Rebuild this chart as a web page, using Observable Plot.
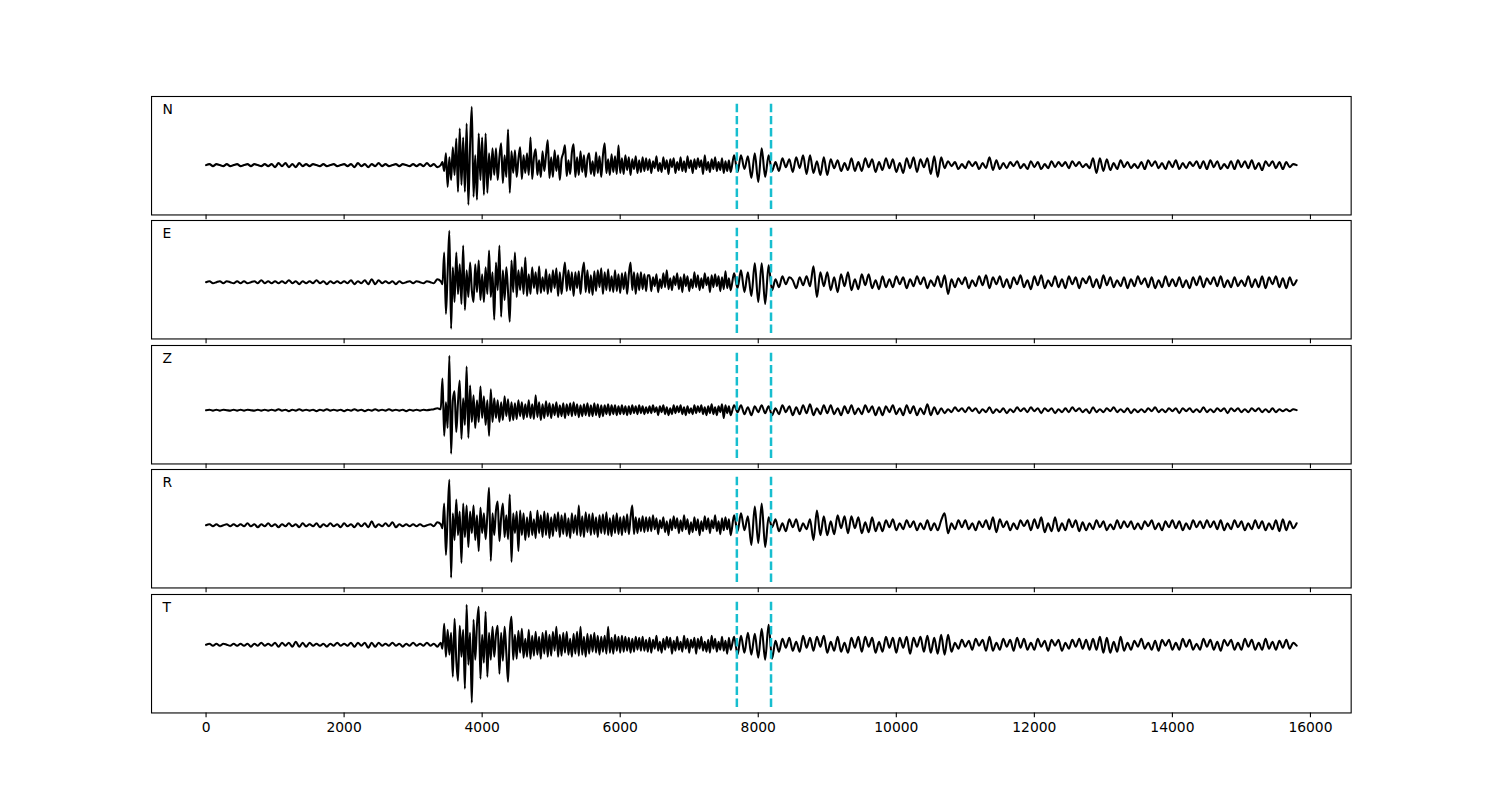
<!DOCTYPE html>
<html><head><meta charset="utf-8">
<script src="https://cdn.jsdelivr.net/npm/d3@7"></script>
<script src="https://cdn.jsdelivr.net/npm/@observablehq/plot@0.6"></script>
<style>
body{margin:0;background:#fff}
#fig{position:relative;width:1500px;height:800px;font-family:"DejaVu Sans"}
#fig svg{position:absolute;left:0}
</style>
</head><body><div id="fig"></div>
<script>
// Each trace = pre-event noise (dt 50 from t=0), main burst (dt 25 from t=3400), coda (dt 50 from t=7650)
const PRE_DT = 50, BURST_T0 = 3400, BURST_DT = 25, CODA_T0 = 7650, CODA_DT = 50;
const channels = ["N", "E", "Z", "R", "T"];
const picks = [7690, 8185];
const xTicks = [0, 2000, 4000, 6000, 8000, 10000, 12000, 14000, 16000];

const preN = [
0,1,-1,1,0,-1,1,-1,0,1,
-1,0,1,-1,1,0,-1,1,-1,1,
-2,2,-1,2,-2,1,-2,2,-1,1,
-1,1,0,-1,1,-1,0,1,-1,0,
1,-1,1,-2,2,-1,1,-2,1,-1,
2,-1,1,-1,0,1,-1,1,0,-1,
1,-1,1,-1,2,-1,1,-2];
const burstN = [
0,3,-6,12,-22,8,-15,18,-10,27,
-27,37,-20,28,-27,42,-40,20,59,-32,
10,-35,32,-15,28,-30,32,-28,12,-15,
17,-10,17,-15,8,22,-18,10,-12,36,
-28,14,-8,15,-12,6,18,-14,10,-8,
12,-10,28,-14,8,16,-10,5,-12,14,
-6,10,25,-13,8,-12,15,-6,10,-15,
6,12,20,-11,5,-9,13,21,-12,8,
-10,14,-7,10,-12,6,12,-9,4,-11,
13,-8,9,-12,10,22,-8,6,-10,11,
-7,9,-9,20,-8,7,-9,10,-5,8,
-10,6,-4,9,-8,5,-7,8,-6,7,
-5,
6,-8,4,-3,9,-6,2,-7,8,-4,
5,-9,6,-2,7,-8,3,-5,8,-6,
4,-7,9,-3,5,-8,6,-4,7,-2,
5,-9,10,-5,3,-7,6,-4,8,-6,
3,-5,7,-8,4,-6,5,-7];
const codaN = [
10,-7,10,-4,9,-13,12,
-17,17,-12,10,-6,3,-6,7,-2,6,
-7,8,-3,10,-9,10,-8,4,-10,8,
-10,6,-3,5,-6,2,-5,7,-6,3,
-6,7,-2,6,-7,3,-5,7,-3,6,
-7,2,-8,7,-3,8,-7,6,-2,7,
-9,9,-12,8,-3,4,-1,3,-4,1,
-3,4,-1,3,-4,2,-3,8,-5,5,
-4,2,-3,3,-1,4,-3,1,-4,4,
-2,3,-4,1,-3,4,-2,3,-1,3,
-3,4,-1,3,-2,1,-3,7,-8,7,
-6,6,-5,2,-4,5,-2,3,-3,1,
-3,3,-4,5,-1,4,-3,2,-4,4,
-2,5,-4,2,-3,3,-1,4,-3,4,
-4,5,-2,4,-4,1,-3,4,-4,5,
-2,4,-3,5,-4,2,-5,4,-1,4,
-3,3,-4,3,-2,1,0];

const preE = [
0,1,-1,0,1,-1,1,0,-1,1,
-1,1,-1,0,1,-1,2,-1,1,-1,
1,-1,1,-1,2,-1,1,-2,1,-1,
1,-1,2,-1,1,-2,1,-1,1,-1,
1,-1,2,-2,1,-1,2,-2,3,-2,
2,-1,1,-1,1,-2,1,-1,0,1,
-1,1,0,-1,1,0,-1,3];
const burstE = [
1,-2,30,-32,10,52,-47,15,-20,30,
-12,18,-22,37,-28,12,-15,20,-8,-20,
18,-10,22,-18,8,-20,15,-12,32,-15,
10,-38,20,-8,37,-35,12,-18,15,-10,
-40,22,-10,30,-15,12,-8,15,-12,25,
-14,8,-12,15,-6,10,-12,16,-11,5,
-9,13,-12,8,-10,12,-6,14,-14,10,
-12,6,20,-9,12,-8,10,-14,10,-6,
11,-12,9,20,-10,12,-11,7,-13,11,
-9,12,-5,14,-12,10,-8,13,-9,6,
-10,12,-9,8,-11,9,-7,10,-12,8,
20,-8,10,-12,9,-8,10,-7,8,-9,
7,
7,-9,5,-4,8,-10,3,-6,9,-5,
12,-7,4,-8,6,-3,9,-7,5,-10,
8,-4,6,-9,3,-6,10,-5,7,-8,
4,-6,9,-3,5,-10,7,-5,8,-4,
6,-9,5,-7,11,-6,4,-8];
const codaE = [
9,-6,12,-10,10,-14,19,
-20,19,-22,17,-8,3,-5,6,-2,5,
2,-6,5,-3,6,-4,16,-15,10,-4,
10,-8,5,-10,8,-4,10,-8,3,-7,
8,-3,8,-6,2,-7,6,-5,3,-5,
6,-2,5,-6,3,-4,6,-2,5,-6,
2,-4,6,-5,7,-12,3,-5,4,-2,
5,-6,2,-4,6,-3,7,-6,5,-2,
6,-5,3,-6,5,-2,7,-5,2,-7,
6,-3,7,-6,2,-4,6,-5,3,-6,
6,-2,5,-6,4,-1,6,-5,3,-6,
7,-3,5,-5,2,-4,5,-6,3,-4,
6,-2,4,-5,5,-6,2,-5,6,-4,
3,-4,5,-5,2,-6,5,-3,6,-5,
4,-2,5,-4,6,-5,2,-5,5,-4,
2,-4,6,-5,3,-5,6,-6,5,-2,
6,-5,4,-6,5,-3,2];

const preZ = [
0,0.5,-0.5,0.5,-0.5,0.5,0,-0.5,0.5,-0.5,
0.5,-0.5,0.5,0,-0.5,0.5,-0.5,0.5,-0.5,0.5,
-0.5,1,-0.5,0.5,-1,0.5,-0.5,1,-0.5,0.5,
-0.5,0.5,-1,0.5,-0.5,1,-0.5,0.5,-0.5,0.5,
-1,0.5,-0.5,1,-0.5,0.5,-1,0.5,-0.5,1,
-0.5,0.5,-0.5,1,-0.5,0.5,-0.5,0.5,-1,0.5,
-0.5,0.5,-0.5,0.5,0,0.5,1,2];
const burstZ = [
1,32,-26,8,-18,55,-44,10,19,-22,
8,30,-29,12,-15,44,-28,25,-12,15,
-18,10,-12,24,-8,14,-15,10,-26,21,
-12,12,-8,10,-12,8,-10,14,-6,11,
-11,8,-10,7,-9,10,-6,8,-9,6,
-7,10,-8,6,-9,15,-7,8,-10,6,
-8,9,-6,7,-8,6,-5,8,-7,5,
-6,7,-8,6,-5,7,-6,8,-5,6,
-7,5,-6,6,-5,7,-6,5,-6,7,
-5,6,-7,5,-6,5,-4,6,-5,5,
-4,5,-5,4,-4,5,-4,4,-5,4,
-4,5,-3,4,-4,5,-3,4,-4,3,
-3,
4,-3,5,-2,3,-5,4,-2,5,-4,
3,-5,2,-4,5,-3,4,-2,5,-4,
3,-5,4,-3,2,-4,5,-3,4,-2,
5,-4,3,-5,4,-3,6,-4,3,-5,
4,-2,6,-8,5,-3,4,-5];
const codaZ = [
5,-2,5,-4,3,-5,4,
-2,5,-3,4,-5,2,-4,5,-2,4,
-5,3,-4,5,-3,6,-5,2,-4,5,
-3,5,-4,2,-5,4,-3,5,-4,2,
-4,5,-2,4,-5,3,-5,4,-2,5,
-4,2,-5,5,-3,4,-5,2,-4,6,
-5,3,-4,2,-3,1,-2,3,-1,2,
-2,3,-1,2,-3,1,-2,3,-3,1,
-2,2,-3,1,-2,3,-1,2,-2,3,
-1,2,-3,2,-1,2,-3,1,-2,2,
-2,3,-1,2,-2,1,-3,3,-2,1,
-2,2,-1,3,-2,1,-2,2,-3,1,
-2,1,-2,2,-1,3,-2,1,-2,2,
-1,2,-3,2,-1,2,-2,1,-2,3,
-2,1,-2,2,-1,2,-3,2,-1,2,
-2,1,-2,2,-1,2,-2,1,-2,2,
-2,1,-1,1,-1,1,0];

const preR = [
0,1,-1,1,-1,0,1,-1,1,-1,
1,-1,2,-1,1,-2,1,-1,2,-1,
1,-2,1,-1,2,-1,1,-2,2,-1,
1,-1,2,-2,1,-1,2,-1,1,-2,
2,-1,1,-2,2,-1,2,-2,4,-2,
1,-1,2,-1,3,-2,1,-1,1,-1,
1,-1,1,-1,0,1,-1,3];
const burstR = [
1,-3,22,-30,10,46,-53,12,-15,26,
-10,14,-38,22,-12,20,-22,14,-8,20,
-15,10,-26,18,-8,12,-14,10,38,-36,
12,-10,15,24,-16,8,22,-12,10,-14,
31,-37,12,-8,14,-26,15,-10,12,-15,
8,-12,14,-10,6,-13,15,-8,10,-12,
14,-10,12,-13,8,-11,11,-6,13,-12,
10,-9,12,-11,7,-13,12,-8,10,-10,
20,-11,9,-12,13,-7,11,-10,12,-9,
8,-12,10,-8,11,-9,13,-10,7,-11,
10,-8,12,-9,8,-10,9,-7,11,-9,
8,20,-9,8,-8,7,-6,9,-7,8,
-6,
8,-6,10,-4,7,-9,5,-3,8,-7,
4,-10,6,-5,9,-3,7,-8,5,-6,
10,-4,6,-9,3,-7,8,-5,6,-10,
4,-6,9,-4,7,-8,5,-3,10,-6,
4,-9,7,-5,8,-4,6,-10];
const codaR = [
10,-6,12,-5,9,-20,19,
-18,22,-22,8,-2,6,-6,2,-6,6,
-2,6,-6,2,-4,6,-15,15,-10,9,
-10,4,-9,10,-3,9,-8,9,-3,8,
-8,3,-7,8,-6,3,-6,5,-2,6,
-5,2,-4,5,-2,4,-5,2,-4,5,
-5,2,-5,5,12,-8,2,-4,5,-2,
5,-4,2,-5,4,-2,5,-4,8,-7,
6,-2,4,-5,2,-4,5,-1,5,-5,
6,-3,8,-7,2,-6,8,-6,2,-5,
6,-2,5,-6,3,-5,2,-4,5,-2,
4,-5,1,-4,5,-3,4,-2,4,-4,
2,-4,4,-1,5,-4,2,-5,4,-2,
5,-3,4,-5,2,-4,5,-2,4,-3,
5,-2,4,-4,5,-5,2,-4,5,-2,
4,-5,2,-4,5,-3,4,-5,2,-4,
5,-6,6,-5,4,-3,2];

const preT = [
0,1,-1,1,-1,1,0,-1,1,-1,
1,-1,1,-2,1,-1,2,-1,1,-1,
2,-2,2,-1,2,-2,3,-2,2,-2,
2,-1,1,-1,1,-2,1,-1,2,-1,
1,-1,2,-2,2,-1,2,-3,2,-2,
2,-1,1,-1,2,-1,1,-2,1,-1,
2,-1,1,-1,2,-1,1,-2];
const burstT = [
2,-4,21,-12,15,-10,12,-32,26,-15,
-36,19,-12,15,-44,40,-20,12,-58,25,
-15,20,38,-34,10,-18,33,-32,12,-15,
18,-12,10,19,-29,12,-16,18,-8,-37,
12,28,-15,10,-14,14,-8,16,-13,6,
-12,15,-14,9,-11,13,-10,8,-14,12,
-9,14,-12,10,-11,13,-6,18,-12,10,
-11,12,-8,13,-10,6,-12,11,-9,13,
-11,18,-10,8,-12,11,-9,10,-7,12,
-8,9,-10,8,-7,9,-9,18,-8,7,
-9,10,-6,8,-8,9,-7,8,-6,7,
-8,6,-7,8,-5,7,-6,8,-6,5,
-7,
7,-8,5,-4,9,-6,3,-8,6,-5,
8,-3,7,-9,4,-6,8,-5,3,-7,
9,-4,6,-8,5,-3,7,-9,6,-4,
8,-6,3,-7,5,-8,9,-4,6,-7,
3,-5,8,-6,4,-9,7,-5];
const codaT = [
8,-10,9,-8,12,-10,11,
-13,16,-15,20,-14,4,-7,6,-3,7,
-6,3,-7,9,-3,7,-6,8,-2,9,
-8,3,-6,8,-7,2,-8,7,-3,8,
-7,8,-2,7,-8,3,-7,8,-3,7,
-8,7,-3,8,-9,7,-2,8,-7,9,
-8,7,-9,10,-10,10,-7,2,-4,5,
-2,4,-5,6,-1,5,-6,8,-6,2,
-5,6,-2,5,-6,7,-3,6,-5,2,
-5,6,-2,4,-6,5,-1,5,-6,2,
-4,5,-2,6,-4,5,-5,6,-5,8,
-8,7,-8,3,-7,8,-6,2,-5,4,
-2,6,-4,2,-5,4,-6,5,-1,5,
-5,2,-5,6,-2,5,-5,1,-5,6,
-2,5,-5,3,-6,5,-1,5,-5,2,
-5,6,-2,5,-5,2,-5,6,-4,3,
-5,4,-3,5,-4,2,-1];

const traces = [
  [preN, burstN, codaN],
  [preE, burstE, codaE],
  [preZ, burstZ, codaZ],
  [preR, burstR, codaR],
  [preT, burstT, codaT]
];

function toPoints([pre, burst, coda]) {
  return [
    ...pre.map((v, i) => ({t: i * PRE_DT, v})),
    ...burst.map((v, j) => ({t: BURST_T0 + j * BURST_DT, v})),
    ...coda.map((v, k) => ({t: CODA_T0 + k * CODA_DT, v}))
  ];
}

const fig = document.getElementById("fig");
const FIG_TOP = 96, FIG_BOTTOM = 712, HSPACE = 0.05;
const H = (FIG_BOTTOM - FIG_TOP) / (5 + 4 * HSPACE);

traces.forEach((segs, k) => {
  const last = k === traces.length - 1;
  const top = FIG_TOP + k * H * (1 + HSPACE);
  const mt = 2, mb = last ? 40 : 8;
  const data = toPoints(segs);
  const tMax = d3.max(data, d => d.t);
  const xPad = 0.05 * tMax;
  const lo = d3.min(data, d => d.v), hi = d3.max(data, d => d.v);
  const r = hi - lo;
  const dlo = lo - 0.05 * r, dhi = hi + 0.05 * r;
  const r2 = dhi - dlo;
  const ylo = dlo - 0.05 * r2, yhi = dhi + 0.05 * r2;
  const chart = Plot.plot({
    width: 1500,
    height: H + mt + mb,
    marginLeft: 151, marginRight: 149.3, marginTop: mt, marginBottom: mb,
    style: {background: "transparent", overflow: "visible", fontFamily: "DejaVu Sans", fontSize: "13.9px", color: "black"},
    x: {domain: [-xPad, tMax + xPad]},
    y: {domain: [ylo, yhi], axis: null},
    marks: [
      Plot.line(data, {x: "t", y: "v", stroke: "black", strokeWidth: 2.08, curve: "monotone-x"}),
      Plot.ruleX(picks, {y1: dlo, y2: dhi, stroke: "#17becf", strokeWidth: 2.5, strokeDasharray: "8.5,3.6"}),
      Plot.frame({stroke: "black", strokeWidth: 1.1}),
      Plot.axisX({ticks: xTicks, tickSize: 4.9, tickPadding: 4, strokeWidth: 1.1,
        tickFormat: last ? (d => String(d)) : (() => ""), label: null, fontSize: 13.9, fill: "black"}),
      Plot.text([channels[k]], {frameAnchor: "top-left", dx: 11, dy: 18, lineAnchor: "bottom", text: d => d, fill: "black", fontSize: 13.9})
    ]
  });
  chart.style.top = (top - mt) + "px";
  fig.appendChild(chart);
});
</script>
</body></html>
